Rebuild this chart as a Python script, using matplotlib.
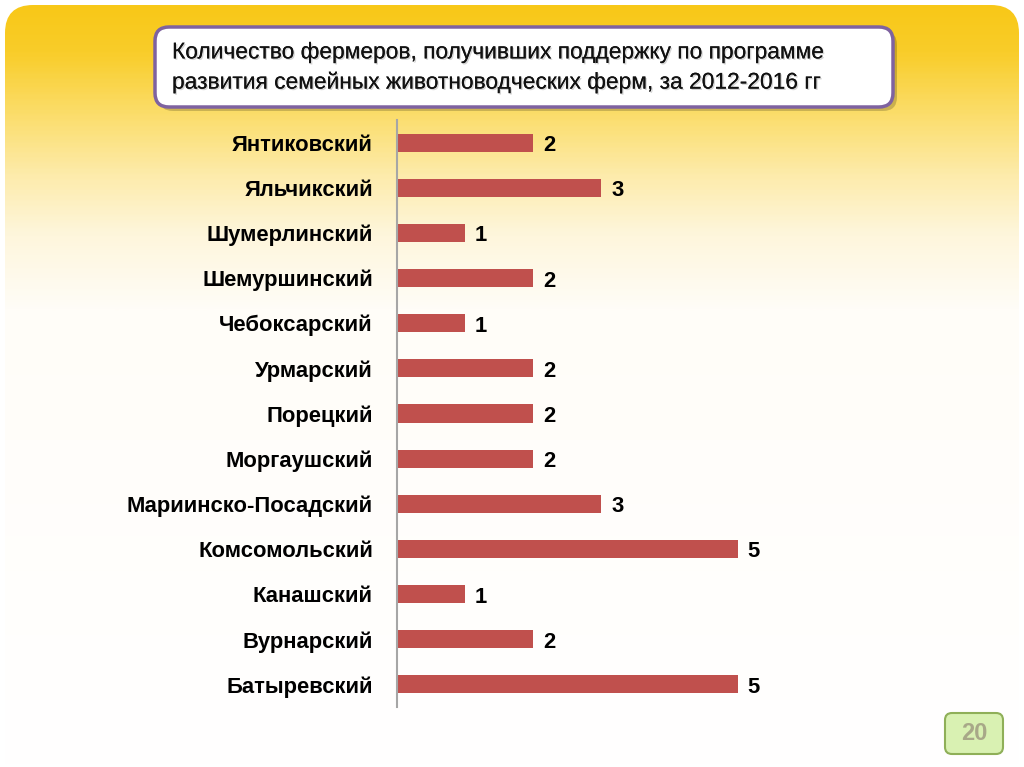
import numpy as np
import matplotlib
matplotlib.use("Agg")
import matplotlib.pyplot as plt
from matplotlib.patches import FancyBboxPatch
from matplotlib.colors import LinearSegmentedColormap
import matplotlib.patheffects as pe

districts = ["Янтиковский", "Яльчикский", "Шумерлинский", "Шемуршинский",
             "Чебоксарский", "Урмарский", "Порецкий", "Моргаушский",
             "Мариинско-Посадский", "Комсомольский", "Канашский",
             "Вурнарский", "Батыревский"]
farmers = [2, 3, 1, 2, 1, 2, 2, 2, 3, 5, 1, 2, 5]
title = ("Количество фермеров, получивших поддержку по программе\n"
         "развития семейных животноводческих ферм, за 2012-2016 гг")
page_number = "20"

W, H = 1024, 767
fig = plt.figure(figsize=(W / 100, H / 100), dpi=100)
fig.patch.set_facecolor("white")

# background slide with gradient
bg = fig.add_axes([0, 0, 1, 1])
bg.set_xlim(0, W)
bg.set_ylim(H, 0)
bg.axis("off")
cmap = LinearSegmentedColormap.from_list(
    "slide", [(0.0, "#F8C818"), (0.06, "#F9CD2A"), (0.14, "#FBDD6A"),
              (0.22, "#FDEBAA"), (0.30, "#FEF6DC"), (0.40, "#FFFDF8"),
              (1.0, "#FFFFFF")])
grad = np.linspace(0, 1, 400).reshape(-1, 1)
im = bg.imshow(grad, cmap=cmap, extent=[5, 1019, 767, 5], aspect="auto",
               interpolation="bilinear", zorder=0)
clip = FancyBboxPatch((5, 5), 1014, 800, boxstyle="round,pad=0,rounding_size=28",
                      transform=bg.transData, facecolor="none", edgecolor="none")
bg.add_patch(clip)
im.set_clip_path(clip)

# title box
shadow = FancyBboxPatch((159, 31), 738, 80, boxstyle="round,pad=0,rounding_size=14",
                        facecolor="#00000030", edgecolor="none", zorder=1)
bg.add_patch(shadow)
box = FancyBboxPatch((155, 27), 738, 80, boxstyle="round,pad=0,rounding_size=14",
                     facecolor="white", edgecolor="#7E62A0", linewidth=2.5, zorder=2)
bg.add_patch(box)
bg.text(172, 67, title, fontsize=16.4, family="Liberation Sans", color="#111111",
        va="center", ha="left", linespacing=1.4, zorder=3,
        path_effects=[pe.withSimplePatchShadow(offset=(1.0, -1.0), shadow_rgbFace="#AAAAAA", alpha=0.5),
                      pe.Normal()])

# page number box
pbox = FancyBboxPatch((945, 713), 58, 41, boxstyle="round,pad=0,rounding_size=7",
                      facecolor="#D9F1B2", edgecolor="#8FAF58", linewidth=1.5, zorder=2)
bg.add_patch(pbox)
bg.text(974, 734, page_number, fontsize=17, fontweight="bold", family="Liberation Sans",
        color="#A8A888", ha="center", va="center", zorder=3)

# main chart
label_font = dict(family="Liberation Sans", fontweight="bold", fontsize=15.8)
x0, unit = 396.5, 68.2
ax_top, ax_bot = 120, 707
ax = fig.add_axes([x0 / W, 1 - ax_bot / H, 6 * unit / W, (ax_bot - ax_top) / H])
ax.patch.set_alpha(0)
y = np.arange(len(districts))
ax.barh(y, farmers, height=0.4, color="#C0504D", zorder=2)
ax.set_xlim(0, 6)
ax.set_ylim(len(districts) - 0.5, -0.5)
ax.set_yticks(y)
ax.set_yticklabels(districts, **label_font)
ax.tick_params(axis="y", length=0, pad=17)
ax.set_xticks([])
for s in ["top", "right", "bottom"]:
    ax.spines[s].set_visible(False)
ax.spines["left"].set_color("#A6A6A6")
ax.spines["left"].set_linewidth(1.5)
for yi, v in zip(y, farmers):
    ax.annotate(str(v), (v, yi), xytext=(10, -3), textcoords="offset pixels",
                va="center", ha="left", color="black", **label_font)

fig.savefig("out.png", dpi=100)
